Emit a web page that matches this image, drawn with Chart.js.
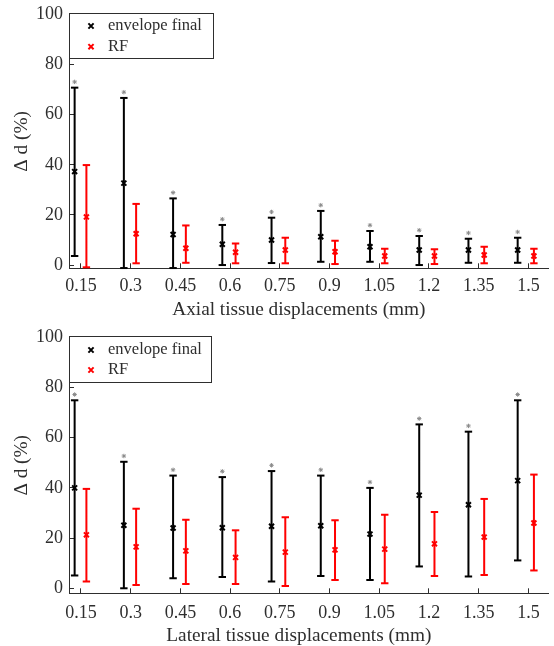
<!DOCTYPE html>
<html>
<head>
<meta charset="utf-8">
<script src="https://cdn.jsdelivr.net/npm/chart.js@4.4.1/dist/chart.umd.min.js"></script>
<style>
  body { margin: 0; background: #fff; }
  canvas { display: block; }
</style>
</head>
<body>
<canvas id="axialChart" width="554" height="323"></canvas>
<canvas id="lateralChart" width="554" height="323"></canvas>
<script>
const displacements = [0.15, 0.3, 0.45, 0.6, 0.75, 0.9, 1.05, 1.2, 1.35, 1.5];
const yTicks = [0, 20, 40, 60, 80, 100];
const seriesNames = ['envelope final', 'RF'];

// axial panel
const axialEnvMean = [37.3, 32.7, 12.2, 8.3, 10, 11.3, 7.3, 6, 6, 6];
const axialEnvLow = [3.6, -1.2, -1.2, 0, 0.8, 1.3, 1.3, 0, 0.9, 0.9];
const axialEnvHigh = [70.8, 66.7, 26.6, 16, 18.9, 21.6, 13.6, 11.6, 10.5, 10.9];
const axialRfMean = [19.2, 12.5, 6.7, 5.1, 6, 5.3, 3.6, 3.6, 4, 3.6];
const axialRfLow = [-0.9, 0.7, 0.9, 0.7, 0.7, 0.4, 0.7, 0.4, 0.7, 0.7];
const axialRfHigh = [39.9, 24.4, 15.8, 8.6, 10.9, 9.7, 6.5, 6.3, 7.3, 6.5];

// lateral panel
const lateralEnvMean = [40, 25.1, 24, 24.1, 24.7, 24.9, 21.6, 37.1, 33.3, 42.9];
const lateralEnvLow = [5.1, 0, 4, 4.5, 2.7, 4.9, 3.3, 8.7, 4.7, 11.1];
const lateralEnvHigh = [74.9, 50.4, 44.9, 44.3, 46.7, 44.9, 40, 65.3, 62.4, 74.9];
const lateralRfMean = [21.3, 16.5, 14.9, 12.3, 14.4, 15.3, 15.6, 17.7, 20.4, 26];
const lateralRfLow = [2.7, 1.3, 1.7, 1.7, 0.9, 3.3, 2, 4.9, 5.3, 7.1];
const lateralRfHigh = [39.6, 31.7, 27.3, 23.1, 28.3, 27.1, 29.3, 30.4, 35.6, 45.3];

const TEXT = '#2e2e2e';
Chart.defaults.font.family = '"Liberation Serif", "Times New Roman", serif';
Chart.defaults.color = TEXT;

// black markers sit a little left of the tick, red ones a little right
const envX = displacements.map(x => x - 0.0175 - 0.01 * x);
const rfX = displacements.map(x => x + 0.0165);

function errorBars(xs, low, high, color) {
    const pts = [];
    xs.forEach((x, i) => {
        pts.push({ x: x, y: low[i] }, { x: x, y: high[i] }, { x: x, y: null });
    });
    return {
        type: 'line',
        data: pts,
        showLine: true,
        spanGaps: false,
        borderColor: color,
        borderWidth: 2,
        pointStyle: 'line',
        pointRadius: 3.7,
        pointBorderWidth: 2,
        pointBorderColor: color,
        clip: false
    };
}

function means(label, xs, vals, color) {
    return {
        type: 'scatter',
        label: label,
        inLegend: true,
        data: xs.map((x, i) => ({ x: x, y: vals[i] })),
        pointStyle: 'crossRot',
        pointRadius: 3.5,
        pointBorderWidth: 2,
        pointBorderColor: color,
        pointBackgroundColor: color,
        clip: false
    };
}

function stars(xs, high) {
    return {
        type: 'scatter',
        data: xs.map((x, i) => ({ x: x, y: high[i] + 2.3 })),
        pointStyle: 'star',
        pointRadius: 2.2,
        pointBorderWidth: 1,
        pointBorderColor: '#8a8a8a',
        clip: false
    };
}

const boxLegend = {
    id: 'boxLegend',
    afterDraw(chart, args, opts) {
        const { ctx, chartArea } = chart;
        const x0 = chartArea.left;
        const y0 = chartArea.top + opts.dy;
        const items = chart.data.datasets.filter(d => d.inLegend);
        ctx.save();
        ctx.fillStyle = '#fff';
        ctx.fillRect(x0, y0, opts.width, opts.height);
        ctx.strokeStyle = TEXT;
        ctx.lineWidth = 1;
        ctx.strokeRect(Math.round(x0) + 0.5, Math.round(y0) + 0.5, opts.width, opts.height);
        ctx.font = '16.5px "Liberation Serif"';
        ctx.textBaseline = 'middle';
        items.forEach((d, i) => {
            const y = y0 + opts.firstRow + i * opts.rowGap;
            const mx = x0 + 22, r = 2.6;
            ctx.strokeStyle = d.pointBorderColor;
            ctx.lineWidth = 2;
            ctx.beginPath();
            ctx.moveTo(mx - r, y - r); ctx.lineTo(mx + r, y + r);
            ctx.moveTo(mx - r, y + r); ctx.lineTo(mx + r, y - r);
            ctx.stroke();
            ctx.fillStyle = TEXT;
            ctx.fillText(d.label, x0 + 39, y);
        });
        ctx.restore();
    }
};

// MATLAB centres the x label a bit left of the canvas-wide axis; pad the text to match
const shiftLeft = '\u00a0\u00a0\u00a0\u00a0';

function makeChart(id, p) {
    return new Chart(document.getElementById(id), {
        type: 'scatter',
        data: {
            datasets: [
                means(seriesNames[0], envX, p.envMean, '#000'),
                means(seriesNames[1], rfX, p.rfMean, '#ff0000'),
                errorBars(envX, p.envLow, p.envHigh, '#000'),
                errorBars(rfX, p.rfLow, p.rfHigh, '#ff0000'),
                stars(envX, p.envHigh)
            ]
        },
        options: {
            responsive: false,
            animation: false,
            events: [],
            layout: { padding: { top: p.top, left: 0, right: 0, bottom: 0 } },
            plugins: {
                legend: { display: false },
                tooltip: { enabled: false },
                boxLegend: p.legend
            },
            scales: {
                x: {
                    type: 'linear',
                    min: 0.114,
                    max: 1.559,
                    afterBuildTicks: s => { s.ticks = displacements.map(v => ({ value: v })); },
                    afterFit: s => {
                        s.height = p.xAxisHeight;
                        s.paddingLeft = 0;
                        s.paddingRight = 0;
                    },
                    ticks: {
                        autoSkip: false,
                        maxRotation: 0,
                        padding: p.xTickPad,
                        font: { size: 18 },
                        callback: v => String(v)
                    },
                    grid: { drawOnChartArea: false, tickLength: -5, color: TEXT },
                    border: { color: TEXT, width: 1 },
                    title: {
                        display: true,
                        text: p.xTitle + shiftLeft,
                        font: { size: 19.3, lineHeight: 1 },
                        padding: { top: 0, bottom: p.xTitlePad }
                    }
                },
                y: {
                    min: p.yMin,
                    max: 100,
                    afterBuildTicks: s => { s.ticks = yTicks.map(v => ({ value: v })); },
                    afterFit: s => {
                        s.width = 69;
                        s.paddingTop = 0;
                        s.paddingBottom = 0;
                    },
                    ticks: { padding: 11, font: { size: 18 } },
                    grid: { drawOnChartArea: false, tickLength: -5, color: TEXT },
                    border: { color: TEXT, width: 1 },
                    title: {
                        display: true,
                        text: 'Δ d (%)',
                        font: { size: 19.3, lineHeight: 1 },
                        padding: { top: 12, bottom: 0 }
                    }
                }
            }
        },
        plugins: [boxLegend]
    });
}

makeChart('axialChart', {
    envMean: axialEnvMean, envLow: axialEnvLow, envHigh: axialEnvHigh,
    rfMean: axialRfMean, rfLow: axialRfLow, rfHigh: axialRfHigh,
    xTitle: 'Axial tissue displacements (mm)',
    yMin: -1.3, top: 14.5, xAxisHeight: 54.7, xTickPad: 12.4, xTitlePad: 3.4,
    legend: { dy: -1.8, width: 144, height: 45, firstRow: 13.3, rowGap: 20.7 }
});

makeChart('lateralChart', {
    envMean: lateralEnvMean, envLow: lateralEnvLow, envHigh: lateralEnvHigh,
    rfMean: lateralRfMean, rfLow: lateralRfLow, rfHigh: lateralRfHigh,
    xTitle: 'Lateral tissue displacements (mm)',
    yMin: -2, top: 14.3, xAxisHeight: 52.7, xTickPad: 14.4, xTitlePad: 0.4,
    legend: { dy: -1.6, width: 142, height: 46, firstRow: 14.3, rowGap: 20 }
});
</script>
</body>
</html>
